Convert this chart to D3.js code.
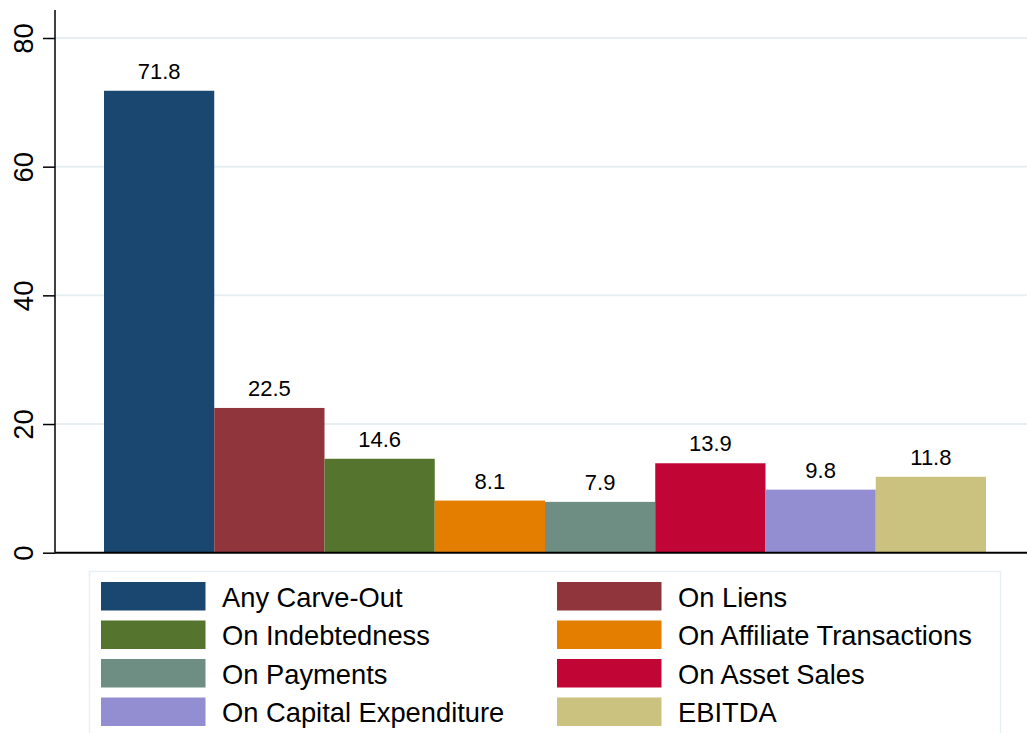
<!DOCTYPE html>
<html>
<head>
<meta charset="utf-8">
<script src="https://cdn.jsdelivr.net/npm/d3@7"></script>
<style>
  body { margin: 0; background: #fff; }
  text { font-family: "Liberation Sans", Arial, Helvetica, sans-serif; fill: #000; }
</style>
</head>
<body>
<div id="chart"></div>
<script>
var categories = ["Any Carve-Out", "On Liens", "On Indebtedness", "On Affiliate Transactions",
                  "On Payments", "On Asset Sales", "On Capital Expenditure", "EBITDA"];
var values = [71.8, 22.5, 14.6, 8.1, 7.9, 13.9, 9.8, 11.8];
var colors = ["#1a476f", "#90353b", "#55752f", "#e37e00", "#6e8e84", "#c10534", "#938dd2", "#cac27e"];
var yTicks = [0, 20, 40, 60, 80];

var width = 1027,
    height = 733,
    axisX = 55,
    plotTop = 10,
    plotBottom = 552.7;

var svg = d3.select("#chart")
  .append("svg")
  .attr("width", width)
  .attr("height", height);

// scales
var y = d3.scaleLinear().domain([0, 80]).range([plotBottom, 38]);
var x = d3.scaleBand().domain(categories).range([104, 986]).padding(0);

// gridlines
svg.append("g")
  .selectAll("line")
  .data(yTicks.filter(d => d > 0))
  .enter()
  .append("line")
  .attr("x1", axisX)
  .attr("x2", width)
  .attr("y1", d => y(d))
  .attr("y2", d => y(d))
  .style("stroke", "#e8eff3")
  .style("stroke-width", 2);

// bars
svg.append("g")
  .selectAll("rect")
  .data(values)
  .enter()
  .append("rect")
  .attr("x", (d, i) => x(categories[i]))
  .attr("y", d => y(d))
  .attr("width", x.bandwidth())
  .attr("height", d => y(0) - y(d))
  .style("fill", (d, i) => colors[i]);

// value labels
svg.append("g")
  .selectAll("text")
  .data(values)
  .enter()
  .append("text")
  .attr("x", (d, i) => x(categories[i]) + x.bandwidth() / 2)
  .attr("y", d => y(d) - 12)
  .attr("text-anchor", "middle")
  .style("font-size", "22px")
  .text(d => d.toFixed(1));

// y axis
var yAxis = d3.axisLeft(y).tickValues(yTicks).tickSize(12).tickPadding(0).tickFormat(d3.format("d"));
var gy = svg.append("g")
  .attr("transform", "translate(" + axisX + ",0)")
  .call(yAxis);
gy.select(".domain")
  .attr("d", "M0," + plotTop + "V" + plotBottom)
  .style("stroke", "#000")
  .style("stroke-width", 1.5);
gy.selectAll(".tick line").style("stroke", "#000").style("stroke-width", 1.5);
gy.selectAll(".tick text")
  .attr("x", null)
  .attr("dy", null)
  .attr("transform", "translate(-22,0) rotate(-90)")
  .attr("text-anchor", "middle")
  .style("font-size", "27.5px")
  .style("font-family", "'Liberation Sans', Arial, sans-serif")
  .style("fill", "#000");

// x axis baseline
svg.append("line")
  .attr("x1", axisX)
  .attr("x2", width)
  .attr("y1", y(0))
  .attr("y2", y(0))
  .style("stroke", "#000")
  .style("stroke-width", 2);

// legend
var legend = svg.append("g");
legend.append("rect")
  .attr("x", 89.5)
  .attr("y", 571.5)
  .attr("width", 911)
  .attr("height", 180)
  .style("fill", "#fff")
  .style("stroke", "#e8eff3")
  .style("stroke-width", 1.5);

var item = legend.selectAll("g.item")
  .data(categories)
  .enter()
  .append("g")
  .attr("class", "item")
  .attr("transform", (d, i) => "translate(" + (i % 2 === 0 ? 101 : 557) + "," + (582 + Math.floor(i / 2) * 38.5) + ")");

item.append("rect")
  .attr("width", 104.5)
  .attr("height", 28.5)
  .style("fill", (d, i) => colors[i]);

item.append("text")
  .attr("x", 121)
  .attr("y", 24.5)
  .style("font-size", "27.3px")
  .text(d => d);
</script>
</body>
</html>
